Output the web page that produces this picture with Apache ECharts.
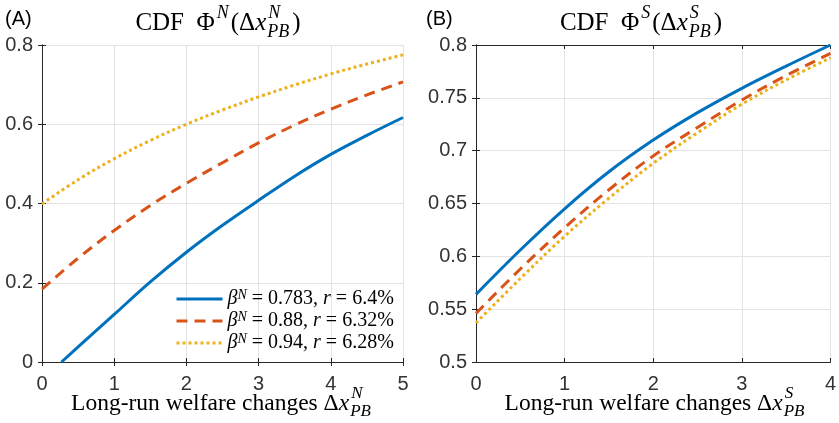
<!DOCTYPE html>
<html>
<head>
<meta charset="utf-8">
<script src="https://cdn.jsdelivr.net/npm/echarts@6/dist/echarts.min.js"></script>
<style>
  html, body { margin: 0; padding: 0; background: #fff; }
  #chart { width: 839px; height: 423px; }
</style>
</head>
<body>
<div id="chart"></div>
<script>
// ---- data ----
// panel A: x grid (blue curve starts where it crosses zero)
const xA = [0, 0.5, 1, 1.5, 2, 2.5, 3, 3.5, 4, 4.5, 5];
const xBlueA = [0.27, 0.5, 1, 1.5, 2, 2.5, 3, 3.5, 4, 4.5, 5];
const blueA = [0, 0.038, 0.12, 0.202, 0.277, 0.345, 0.408, 0.469, 0.524, 0.572, 0.617];
const orangeA = [0.184, 0.262, 0.332, 0.395, 0.451, 0.503, 0.553, 0.598, 0.638, 0.674, 0.707];
const yellowA = [0.399, 0.460, 0.513, 0.559, 0.600, 0.636, 0.669, 0.699, 0.727, 0.752, 0.775];

// panel B
const xB = [0, 0.5, 1, 1.5, 2, 2.5, 3, 3.5, 4];
const blueB = [0.564, 0.606, 0.645, 0.680, 0.710, 0.736, 0.759, 0.780, 0.800];
const orangeB = [0.546, 0.588, 0.627, 0.663, 0.695, 0.722, 0.748, 0.771, 0.792];
const yellowB = [0.537, 0.579, 0.619, 0.655, 0.688, 0.717, 0.744, 0.767, 0.788];

// legend entries
const betaVals = ['0.783', '0.88', '0.94'];
const rVals = ['6.4%', '6.32%', '6.28%'];
const seriesNames = betaVals.map((b, i) => 'β=' + b + ', r=' + rVals[i]);

const colors = ['#0072BD', '#D95319', '#EDB120'];
const dashes = ['solid', [11, 7], [3, 3]];
const axisColor = '#262626';
const gridColor = '#e3e3e3';

// ---- math-ish text built from plain text pieces ----
const mctx = document.createElement('canvas').getContext('2d');
function fontStr(size, it) {
    return (it ? 'italic ' : '') + size + 'px "Liberation Serif", serif';
}
function measure(t, size, it) {
    mctx.font = fontStr(size, it);
    return mctx.measureText(t).width;
}
function txt(t, x, base, size, it) {
    return {
        type: 'text', x: x, y: base - size * 0.34, silent: true,
        style: { text: t, font: fontStr(size, it), fill: '#000', align: 'left', verticalAlign: 'middle' }
    };
}
function mathText(parts, cx, base, size) {
    const ss = Math.round(size * 0.72);
    let w = 0;
    parts.forEach(p => {
        if (p.t) p.w = measure(p.t, size, p.it);
        else p.w = Math.max(p.sup ? measure(p.sup, ss, true) : 0, p.sub ? measure(p.sub, ss, true) : 0) + 4;
        w += p.w;
    });
    let x = cx - w / 2;
    const els = [];
    parts.forEach(p => {
        if (p.t) els.push(txt(p.t, x, base, size, p.it));
        if (p.sup) els.push(txt(p.sup, x + 2, base - size * 0.5, ss, true));
        if (p.sub) els.push(txt(p.sub, x + 1, base + size * 0.24, ss, true));
        x += p.w;
    });
    return els;
}

const titleA = [{ t: 'CDF\u2002Φ' }, { sup: 'N' }, { t: '(Δ' }, { t: 'x', it: true }, { sup: 'N', sub: 'PB' }, { t: ')' }];
const titleB = [{ t: 'CDF\u2002Φ' }, { sup: 'S' }, { t: '(Δ' }, { t: 'x', it: true }, { sup: 'S', sub: 'PB' }, { t: ')' }];
const xlabA = [{ t: 'Long-run welfare changes Δ' }, { t: 'x', it: true }, { sup: 'N', sub: 'PB' }];
const xlabB = [{ t: 'Long-run welfare changes Δ' }, { t: 'x', it: true }, { sup: 'S', sub: 'PB' }];

// ---- axes ----
const grids = [
    { left: 42, top: 45, width: 361, height: 317 },
    { left: 476, top: 45, width: 361, height: 317 }
];
const labelStyle = { color: '#333', fontSize: 20, fontFamily: 'Liberation Sans' };

function mkX(gi, max, pos, labels) {
    return {
        type: 'value', gridIndex: gi, min: 0, max: max, interval: 1, position: pos,
        axisLine: { show: true, lineStyle: { color: axisColor, width: 1 } },
        axisTick: { show: true, inside: true, length: 4, lineStyle: { color: axisColor } },
        axisLabel: labels ? Object.assign({ margin: 12 }, labelStyle) : { show: false },
        splitLine: { show: labels, lineStyle: { color: gridColor, width: 1 } }
    };
}
function mkY(gi, min, max, step, pos, labels) {
    return {
        type: 'value', gridIndex: gi, min: min, max: max, interval: step, position: pos,
        axisLine: { show: true, lineStyle: { color: axisColor, width: 1 } },
        axisTick: { show: true, inside: true, length: 4, lineStyle: { color: axisColor } },
        axisLabel: labels ? Object.assign({ margin: 9, formatter: v => String(+v.toFixed(2)) }, labelStyle) : { show: false },
        splitLine: { show: labels, lineStyle: { color: gridColor, width: 1 } }
    };
}

function mkSeries(name, xs, ys, i, xi, yi) {
    return {
        name: name, type: 'line', xAxisIndex: xi, yAxisIndex: yi,
        data: xs.map((x, k) => [x, ys[k]]),
        symbol: 'none', smooth: 0.35, z: 5 - i,
        lineStyle: { color: colors[i], width: 3, type: dashes[i], cap: 'butt' },
        itemStyle: { color: colors[i] }
    };
}

const chart = echarts.init(document.getElementById('chart'));
chart.setOption({
    animation: false,
    backgroundColor: '#fff',
    grid: grids,
    xAxis: [mkX(0, 5, 'bottom', true), mkX(0, 5, 'top', false), mkX(1, 4, 'bottom', true), mkX(1, 4, 'top', false)],
    yAxis: [mkY(0, 0, 0.8, 0.2, 'left', true), mkY(0, 0, 0.8, 0.2, 'right', false),
            mkY(1, 0.5, 0.8, 0.05, 'left', true), mkY(1, 0.5, 0.8, 0.05, 'right', false)],
    legend: {
        data: seriesNames,
        orient: 'vertical', left: 170, top: 283,
        itemWidth: 46, itemHeight: 14, itemGap: 1,
        itemStyle: { opacity: 0 },
        lineStyle: { width: 3 },
        formatter: name => {
            const i = seriesNames.indexOf(name);
            return '{it|β}{sup|N}{t| = ' + betaVals[i] + ', }{it|r}{t| = ' + rVals[i] + '}';
        },
        textStyle: {
            color: '#000',
            rich: {
                t: { fontFamily: 'Liberation Serif', fontSize: 20, lineHeight: 22, color: '#000' },
                it: { fontFamily: 'Liberation Serif', fontStyle: 'italic', fontSize: 20, lineHeight: 22, color: '#000' },
                sup: { fontFamily: 'Liberation Serif', fontStyle: 'italic', fontSize: 14, lineHeight: 13, verticalAlign: 'top', color: '#000' }
            }
        }
    },
    series: [
        mkSeries(seriesNames[0], xBlueA, blueA, 0, 0, 0),
        mkSeries(seriesNames[1], xA, orangeA, 1, 0, 0),
        mkSeries(seriesNames[2], xA, yellowA, 2, 0, 0),
        mkSeries(seriesNames[0], xB, blueB, 0, 2, 2),
        mkSeries(seriesNames[1], xB, orangeB, 1, 2, 2),
        mkSeries(seriesNames[2], xB, yellowB, 2, 2, 2)
    ],
    graphic: [].concat(
        [
            { type: 'text', left: 5, top: 9, silent: true, style: { text: '(A)', font: '20px "Liberation Sans"', fill: '#000' } },
            { type: 'text', left: 426, top: 9, silent: true, style: { text: '(B)', font: '20px "Liberation Sans"', fill: '#000' } }
        ],
        mathText(titleA, 218, 32, 25),
        mathText(titleB, 641, 32, 25),
        mathText(xlabA, 222.5, 411.5, 23.5),
        mathText(xlabB, 656, 411.5, 23.5)
    )
});
</script>
</body>
</html>
